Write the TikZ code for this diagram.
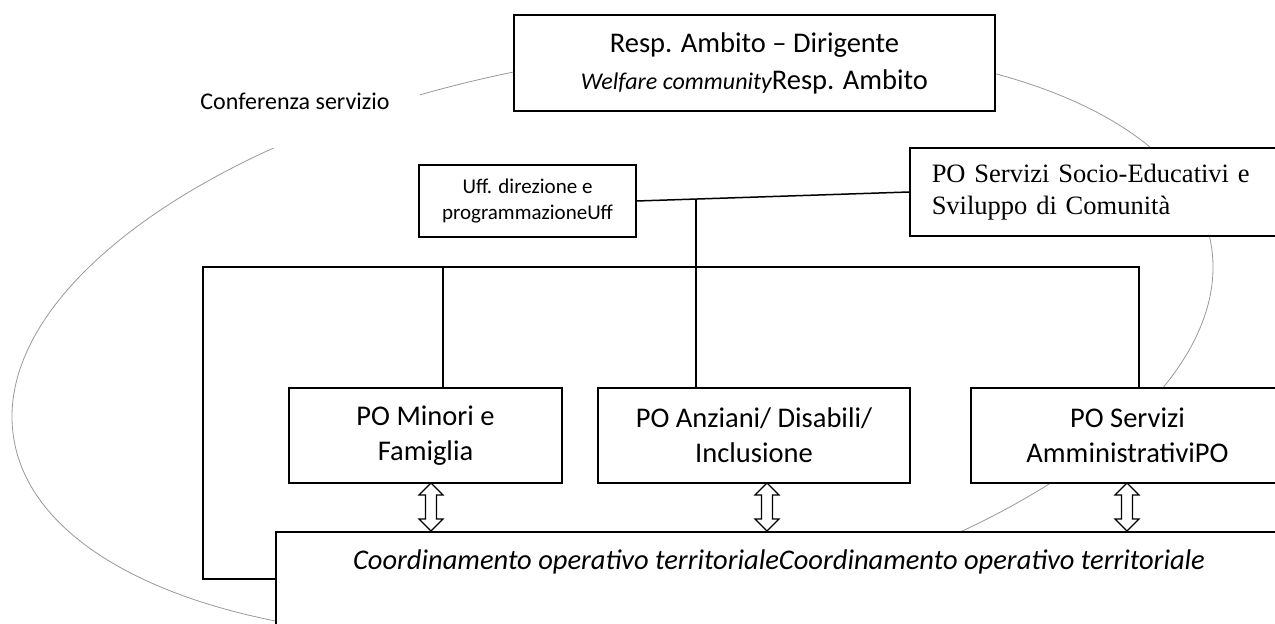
\documentclass[tikz,border=0pt]{standalone}
\usepackage{fontspec}
\setmainfont{Carlito}
\newfontfamily\timesf{Liberation Serif}
\begin{document}
\begin{tikzpicture}[x=1pt,y=-1pt,
  box/.style={draw=black, line width=1.5pt, fill=white, inner sep=0pt, align=center},
  conn/.style={line width=1.5pt},
  ring/.style={draw=black!40, line width=0.8pt},
  udarrow/.pic={\draw[line width=1.1pt, fill=white] (0,-24) -- (12,-12) -- (5.5,-12) -- (5.5,12) -- (12,12) -- (0,24) -- (-12,12) -- (-5.5,12) -- (-5.5,-12) -- (-12,-12) -- cycle;}
]
\useasboundingbox (0,0) rectangle (1275,624);
\clip (0,0) rectangle (1275,624);
\fill[white] (0,0) rectangle (1275,624);

% conference ring (behind everything)
\coordinate (rc) at (612.5,342);
\draw[ring, rotate around={9.13:(rc)}] (rc) ellipse [x radius=606.5pt, y radius=283.4pt];

% label of the ring, on a white patch
\fill[white] (180,70) rectangle (420,148);
\node[font=\fontsize{24}{29}\selectfont, inner sep=0pt] (conf) at (295,101) {Conferenza servizio};

% boxes
\node[box, minimum width=481pt, minimum height=96pt, font=\fontsize{28.5}{37}\selectfont] (top) at (754.5,63)
  {Resp. Ambito – Dirigente\\{\itshape\fontsize{24}{37}\selectfont Welfare community}Resp. Ambito};
\node[box, minimum width=217pt, minimum height=72pt, font=\fontsize{21}{26.5}\selectfont] (uff) at (527.5,201)
  {Uff. direzione e\\programmazioneUff};
\node[box, anchor=west, minimum width=391pt, minimum height=88pt, text width=347pt, align=left,
  font=\timesf\fontsize{26.5}{32}\selectfont] (soc) at (909,192)
  {PO Servizi Socio-Educativi e\\Sviluppo di Comunità};
\node[box, minimum width=273pt, minimum height=95pt, font=\fontsize{28.5}{35}\selectfont] (minori) at (425.5,435.5)
  {PO Minori e\\Famiglia};
\node[box, minimum width=312pt, minimum height=95pt, font=\fontsize{28.5}{35}\selectfont] (anziani) at (754,435.5)
  {PO Anziani/ Disabili/\\Inclusione};
\node[box, minimum width=313pt, minimum height=95pt, font=\fontsize{28.5}{35}\selectfont] (ammin) at (1127.5,435.5)
  {PO Servizi\\AmministrativiPO};
\node[box, anchor=north west, minimum width=1008pt, minimum height=130pt] (coord) at (275,531) {};
\node[font=\itshape\fontsize{28.5}{35}\selectfont, inner sep=0pt] (coordtxt) at (779,562)
  {Coordinamento operativo territorialeCoordinamento operativo territoriale};

% connectors
\coordinate (J) at (696,199);
\coordinate (tl) at (203,267);
\coordinate (tr) at (1139,267);
\coordinate (tm) at (443,267);
\coordinate (bl) at (203,579);
\draw[conn] (uff.east) -- (soc.west);
\draw[conn] (J) -- (J |- anziani.north);
\draw[conn] (coord.west |- bl) -- (bl) -- (tl) -- (tr) -- (tr |- ammin.north);
\draw[conn] (tm) -- (tm |- minori.north);

% double arrows between PO boxes and coordination
\pic at (431,507) {udarrow};
\pic at (767,507) {udarrow};
\pic at (1127,507) {udarrow};
\end{tikzpicture}
\end{document}
